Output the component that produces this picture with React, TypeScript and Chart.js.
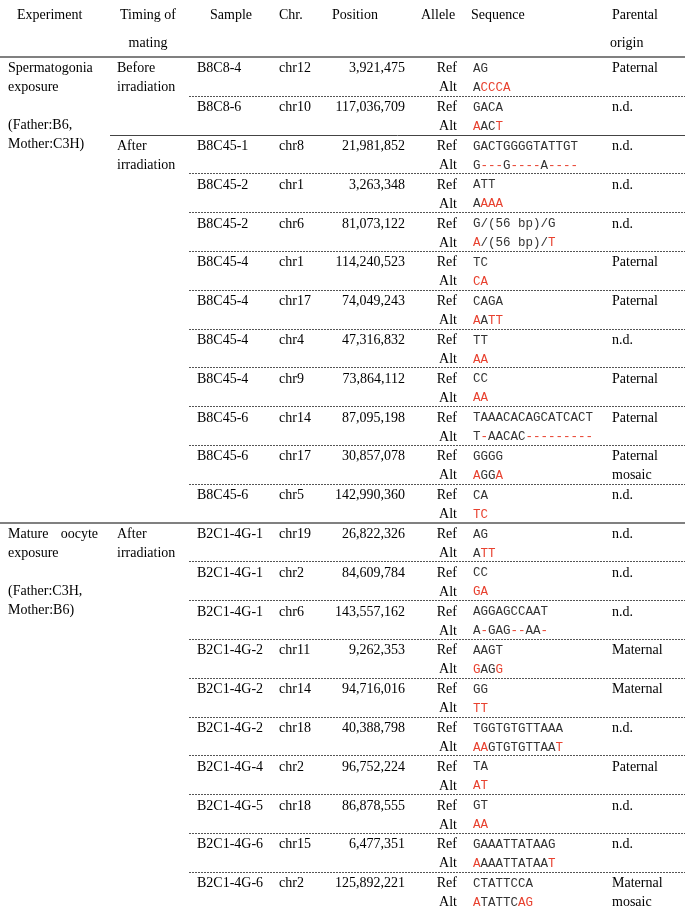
import React, { useEffect, useRef } from "react";
import { Chart, registerables } from "chart.js";

Chart.register(...registerables);

// ---------- data ----------
const headerLine1 = ["Experiment", "Timing of", "Sample", "Chr.", "Position", "Allele", "Sequence", "Parental"];
const headerLine2 = ["", "mating", "", "", "", "", "", "origin"];

const experimentLines = [
  ["Spermatogonia", "exposure", "", "(Father:B6,", "Mother:C3H)"],
  ["Mature|oocyte", "exposure", "", "(Father:C3H,", "Mother:B6)"],
];
const experimentStartRow = [0, 12];

const timingLines = [
  ["Before", "irradiation"],
  ["After", "irradiation"],
  ["After", "irradiation"],
];
const timingStartRow = [0, 2, 12];

const samples = [
  "B8C8-4", "B8C8-6", "B8C45-1", "B8C45-2", "B8C45-2", "B8C45-4", "B8C45-4", "B8C45-4",
  "B8C45-4", "B8C45-6", "B8C45-6", "B8C45-6",
  "B2C1-4G-1", "B2C1-4G-1", "B2C1-4G-1", "B2C1-4G-2", "B2C1-4G-2", "B2C1-4G-2",
  "B2C1-4G-4", "B2C1-4G-5", "B2C1-4G-6", "B2C1-4G-6",
];
const chromosomes = [12, 10, 8, 1, 6, 1, 17, 4, 9, 14, 17, 5, 19, 2, 6, 11, 14, 18, 2, 18, 15, 2];
const positions = [
  3921475, 117036709, 21981852, 3263348, 81073122, 114240523, 74049243, 47316832,
  73864112, 87095198, 30857078, 142990360,
  26822326, 84609784, 143557162, 9262353, 94716016, 40388798, 96752224, 86878555,
  6477351, 125892221,
];
const refSequences = [
  "AG", "GACA", "GACTGGGGTATTGT", "ATT", "G/(56 bp)/G", "TC", "CAGA", "TT", "CC",
  "TAAACACAGCATCACT", "GGGG", "CA",
  "AG", "CC", "AGGAGCCAAT", "AAGT", "GG", "TGGTGTGTTAAA", "TA", "GT", "GAAATTATAAG", "CTATTCCA",
];
const altSequences = [
  "ACCCA", "AACT", "G---G----A----", "AAAA", "A/(56 bp)/T", "CA", "AATT", "AA", "AA",
  "T-AACAC---------", "AGGA", "TC",
  "ATT", "GA", "A-GAG--AA-", "GAGG", "TT", "AAGTGTGTTAAT", "AT", "AA", "AAAATTATAAT", "ATATTCAG",
];
const parentalOrigin = [
  ["Paternal"], ["n.d."], ["n.d."], ["n.d."], ["n.d."], ["Paternal"], ["Paternal"], ["n.d."],
  ["Paternal"], ["Paternal"], ["Paternal", "mosaic"], ["n.d."],
  ["n.d."], ["n.d."], ["n.d."], ["Maternal"], ["Maternal"], ["n.d."], ["Paternal"], ["n.d."],
  ["n.d."], ["Maternal", "mosaic"],
];
const alleleLabels = ["Ref", "Alt"];

// ---------- layout (scale units) ----------
const COL = {
  experiment: 8,
  experimentRight: 98,
  timing: 117,
  sample: 197,
  chr: 279,
  positionRight: 405,
  alleleRight: 457,
  sequence: 473,
  parental: 612,
};
const HEADER_X = [17, 148, 210, 279, 332, 421, 471, 612];
const HEADER_ALIGN: CanvasTextAlign[] = ["left", "center", "left", "left", "left", "left", "left", "left"];
const ROW_PX = 38.8;
const HEADER_BOTTOM_PX = 57;
const Y_MIN = -HEADER_BOTTOM_PX / ROW_PX;
const Y_MAX = (915 - HEADER_BOTTOM_PX) / ROW_PX;
const REF_OFF = 0.3;
const ALT_OFF = 0.79;
const LINE_STEP = 19 / ROW_PX;

const SERIF = "14px 'Liberation Serif', 'Times New Roman', serif";
const MONO = "12.5px 'Liberation Mono', 'Courier New', monospace";
const RED = "#e8412f";
const SEQ_DARK = "#333333";

const tablePlugin = {
  id: "tablePlugin",
  afterDatasetsDraw(chart: any) {
    const ctx: CanvasRenderingContext2D = chart.ctx;
    const xs = chart.scales.x;
    const ys = chart.scales.y;
    const px = (v: number) => xs.getPixelForValue(v);
    const py = (v: number) => ys.getPixelForValue(v);
    const nRows = samples.length;

    ctx.save();
    ctx.textBaseline = "middle";

    // header
    ctx.font = SERIF;
    ctx.fillStyle = "#000";
    headerLine1.forEach((t, i) => {
      ctx.textAlign = HEADER_ALIGN[i];
      ctx.fillText(t, px(HEADER_X[i]), py(-1.082));
      if (headerLine2[i]) ctx.fillText(headerLine2[i], px(HEADER_X[i] + (i === 7 ? -2 : 0)), py(-0.361));
    });

    // separators
    const drawLine = (x0: number, x1: number, v: number, width: number, color: string, dash: number[]) => {
      ctx.beginPath();
      ctx.setLineDash(dash);
      ctx.lineWidth = width;
      ctx.strokeStyle = color;
      const yy = Math.round(py(v)) + (width % 2 === 1 ? 0.5 : 0);
      ctx.moveTo(px(x0), yy);
      ctx.lineTo(px(x1), yy);
      ctx.stroke();
    };
    for (let r = 1; r < nRows; r++) {
      if (experimentStartRow.includes(r)) continue;
      if (timingStartRow.includes(r)) {
        drawLine(110, 685, r, 1, "#444", []);
      } else {
        drawLine(189, 685, r, 1, "#555", [2, 1]);
      }
    }
    drawLine(0, 685, 0, 2, "#808080", []);
    experimentStartRow.forEach((r) => {
      if (r > 0) drawLine(0, 685, r, 2, "#808080", []);
    });
    ctx.setLineDash([]);

    // experiment text
    ctx.font = SERIF;
    ctx.fillStyle = "#000";
    experimentLines.forEach((lines, gi) => {
      const g = experimentStartRow[gi];
      lines.forEach((t, k) => {
        if (!t) return;
        const yv = py(g + REF_OFF + k * LINE_STEP);
        if (t.includes("|")) {
          const [a, b] = t.split("|");
          ctx.textAlign = "left";
          ctx.fillText(a, px(COL.experiment), yv);
          ctx.textAlign = "right";
          ctx.fillText(b, px(COL.experimentRight), yv);
        } else {
          ctx.textAlign = "left";
          ctx.fillText(t, px(COL.experiment), yv);
        }
      });
    });

    // timing text
    timingLines.forEach((lines, ti) => {
      const g = timingStartRow[ti];
      ctx.textAlign = "left";
      ctx.fillText(lines[0], px(COL.timing), py(g + REF_OFF));
      ctx.fillText(lines[1], px(COL.timing), py(g + ALT_OFF));
    });

    // rows
    for (let r = 0; r < nRows; r++) {
      const yRef = py(r + REF_OFF);
      const yAlt = py(r + ALT_OFF);
      ctx.font = SERIF;
      ctx.fillStyle = "#000";
      ctx.textAlign = "left";
      ctx.fillText(samples[r], px(COL.sample), yRef);
      ctx.fillText("chr" + chromosomes[r], px(COL.chr), yRef);
      ctx.textAlign = "right";
      ctx.fillText(positions[r].toLocaleString("en-US"), px(COL.positionRight), yRef);
      ctx.fillText(alleleLabels[0], px(COL.alleleRight), yRef);
      ctx.fillText(alleleLabels[1], px(COL.alleleRight), yAlt);
      ctx.textAlign = "left";
      parentalOrigin[r].forEach((t, k) => {
        ctx.fillText(t, px(COL.parental), k === 0 ? yRef : yAlt);
      });

      // sequences
      ctx.font = MONO;
      const cw = ctx.measureText("A").width;
      const ref = refSequences[r];
      const alt = altSequences[r];
      const x0 = px(COL.sequence);
      for (let i = 0; i < ref.length; i++) {
        ctx.fillStyle = SEQ_DARK;
        ctx.fillText(ref[i], x0 + i * cw, yRef);
      }
      for (let i = 0; i < alt.length; i++) {
        ctx.fillStyle = alt[i] === ref[i] ? SEQ_DARK : RED;
        ctx.fillText(alt[i], x0 + i * cw, yAlt);
      }
    }
    ctx.restore();
  },
};

export default function App() {
  const canvasRef = useRef<HTMLCanvasElement | null>(null);

  useEffect(() => {
    const canvas = canvasRef.current;
    if (!canvas) return;
    const chart = new Chart(canvas, {
      type: "scatter",
      data: {
        datasets: [
          {
            data: samples.map((_, i) => ({ x: COL.sample, y: i + REF_OFF })),
            pointRadius: 0,
            showLine: false,
          },
        ],
      },
      options: {
        animation: false,
        responsive: true,
        maintainAspectRatio: false,
        layout: { padding: 0 },
        events: [],
        plugins: { legend: { display: false }, tooltip: { enabled: false } },
        scales: {
          x: { type: "linear", min: 0, max: 685, display: false },
          y: { type: "linear", min: Y_MIN, max: Y_MAX, reverse: true, display: false },
        },
      },
      plugins: [tablePlugin],
    });
    return () => chart.destroy();
  }, []);

  return (
    <div style={{ position: "absolute", left: 0, top: 0, width: 685, height: 915, background: "#fff" }}>
      <canvas ref={canvasRef} />
    </div>
  );
}
